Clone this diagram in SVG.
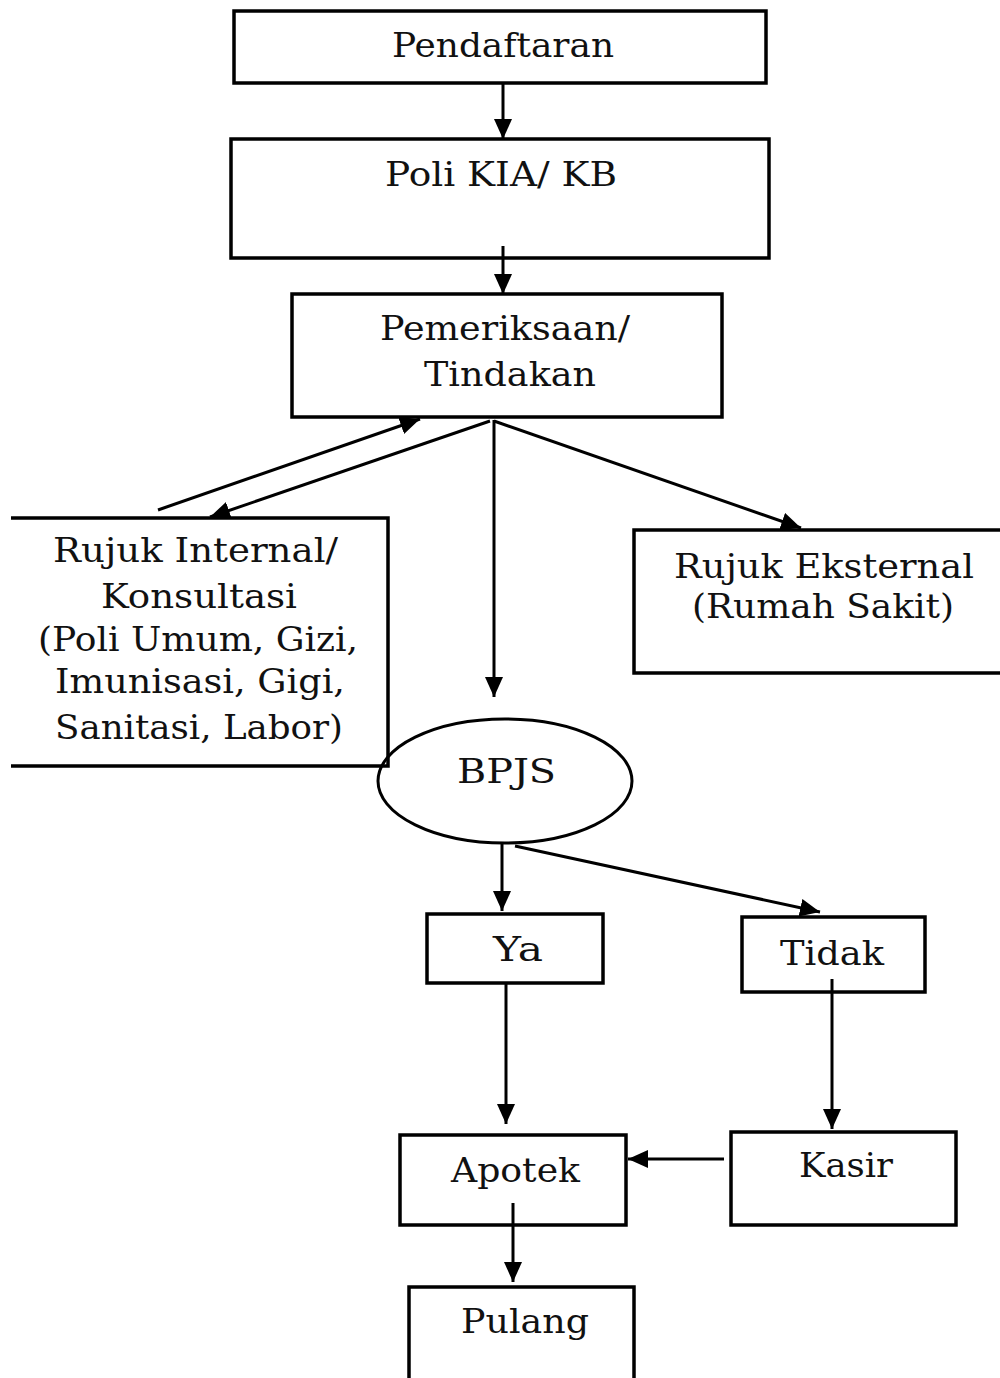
<svg xmlns="http://www.w3.org/2000/svg" width="1000" height="1378" viewBox="0 0 1000 1378">
<defs>
<style>
.box{fill:none;stroke:#000;stroke-width:3.5}
.edge{fill:none;stroke:#000;stroke-width:3}
.conn{fill:none;stroke:#000;stroke-width:3}
.t{font-family:"DejaVu Serif","Liberation Serif",serif;font-size:33px;fill:#111;text-anchor:start}
</style>
<marker id="arr" markerUnits="userSpaceOnUse" markerWidth="22" markerHeight="20" refX="20" refY="9" orient="auto" viewBox="0 0 22 20">
<path d="M0,0 L20,9 L0,18 z" fill="#000"/>
</marker>
</defs>
<rect width="1000" height="1378" fill="#fff"/>

<g id="connectors">
<line class="conn" x1="503" y1="83" x2="503" y2="139" marker-end="url(#arr)"/>
<line class="conn" x1="503" y1="246" x2="503" y2="294" marker-end="url(#arr)"/>
<line class="conn" x1="494" y1="420" x2="494" y2="697" marker-end="url(#arr)"/>
<line class="conn" x1="158" y1="510" x2="420" y2="419" marker-end="url(#arr)"/>
<line class="conn" x1="490" y1="421" x2="210" y2="517" marker-end="url(#arr)"/>
<line class="conn" x1="494" y1="421" x2="801" y2="528" marker-end="url(#arr)"/>
<line class="conn" x1="502" y1="843" x2="502" y2="911" marker-end="url(#arr)"/>
<line class="conn" x1="515" y1="846" x2="820" y2="912" marker-end="url(#arr)"/>
<line class="conn" x1="506" y1="983" x2="506" y2="1124" marker-end="url(#arr)"/>
<line class="conn" x1="832" y1="979" x2="832" y2="1129" marker-end="url(#arr)"/>
<line class="conn" x1="724" y1="1159" x2="628" y2="1159" marker-end="url(#arr)"/>
<line class="conn" x1="513" y1="1203" x2="513" y2="1282" marker-end="url(#arr)"/>
</g>

<g id="pendaftaran">
<rect class="box" x="234" y="11" width="532" height="72"/>
<text class="t" x="392" y="57" textLength="222" lengthAdjust="spacingAndGlyphs">Pendaftaran</text>
</g>

<g id="poli-kia-kb">
<rect class="box" x="231" y="139" width="538" height="119"/>
<text class="t" x="385" y="186" textLength="232" lengthAdjust="spacingAndGlyphs">Poli KIA/ KB</text>
</g>

<g id="pemeriksaan">
<rect class="box" x="292" y="294" width="430" height="123"/>
<text class="t" x="380" y="340" textLength="250" lengthAdjust="spacingAndGlyphs">Pemeriksaan/</text>
<text class="t" x="424" y="386" textLength="172" lengthAdjust="spacingAndGlyphs">Tindakan</text>
</g>

<g id="rujuk-internal">
<path class="box" d="M11,518 H388 V766 H11"/>
<text class="t" x="53" y="562" textLength="285" lengthAdjust="spacingAndGlyphs">Rujuk Internal/</text>
<text class="t" x="101" y="608" textLength="196" lengthAdjust="spacingAndGlyphs">Konsultasi</text>
<text class="t" x="38" y="651" textLength="320" lengthAdjust="spacingAndGlyphs">(Poli Umum, Gizi,</text>
<text class="t" x="55" y="693" textLength="290" lengthAdjust="spacingAndGlyphs">Imunisasi, Gigi,</text>
<text class="t" x="55" y="739" textLength="288" lengthAdjust="spacingAndGlyphs">Sanitasi, Labor)</text>
</g>

<g id="rujuk-eksternal">
<path class="box" d="M1000,530 H634 V673 H1000"/>
<text class="t" x="674" y="578" textLength="300" lengthAdjust="spacingAndGlyphs">Rujuk Eksternal</text>
<text class="t" x="692" y="618" textLength="262" lengthAdjust="spacingAndGlyphs">(Rumah Sakit)</text>
</g>

<g id="bpjs">
<ellipse class="edge" cx="505" cy="781" rx="127" ry="62"/>
<text class="t" x="457" y="783" textLength="99" lengthAdjust="spacingAndGlyphs">BPJS</text>
</g>

<g id="ya">
<rect class="box" x="427" y="914" width="176" height="69"/>
<text class="t" x="493" y="961" textLength="50" lengthAdjust="spacingAndGlyphs">Ya</text>
</g>

<g id="tidak">
<rect class="box" x="742" y="917" width="183" height="75"/>
<text class="t" x="780" y="965" textLength="104" lengthAdjust="spacingAndGlyphs">Tidak</text>
</g>

<g id="apotek">
<rect class="box" x="400" y="1135" width="226" height="90"/>
<text class="t" x="451" y="1182" textLength="129" lengthAdjust="spacingAndGlyphs">Apotek</text>
</g>

<g id="kasir">
<rect class="box" x="731" y="1132" width="225" height="93"/>
<text class="t" x="799" y="1177" textLength="94" lengthAdjust="spacingAndGlyphs">Kasir</text>
</g>

<g id="pulang">
<path class="box" d="M409,1380 V1287 H634 V1380"/>
<text class="t" x="461" y="1333" textLength="128" lengthAdjust="spacingAndGlyphs">Pulang</text>
</g>
</svg>
